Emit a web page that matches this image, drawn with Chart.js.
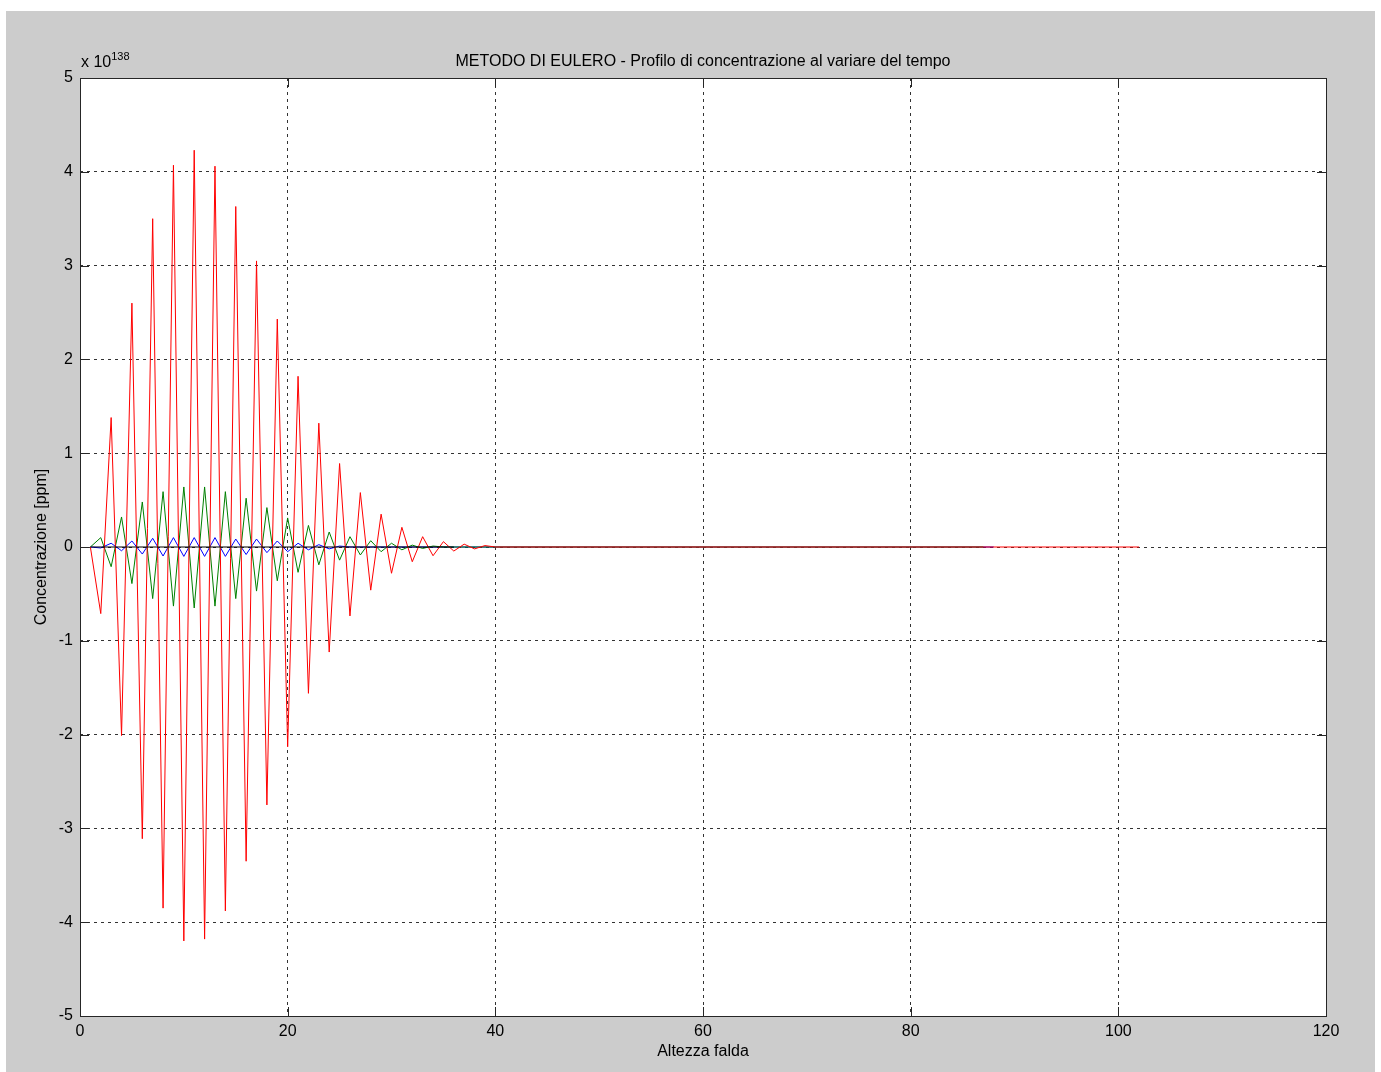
<!DOCTYPE html>
<html>
<head>
<meta charset="utf-8">
<script src="https://cdn.jsdelivr.net/npm/chart.js@4.4.0/dist/chart.umd.min.js"></script>
<style>
  html, body { margin: 0; padding: 0; background: #fff; }
  canvas { display: block; }
</style>
</head>
<body>
<canvas id="chart" width="1381" height="1072"></canvas>
<script>
// concentration values are in units of 1e138 ppm (see "x 10^138" label)
const redX = [1,2,3,4,5,6,7,8,9,10,11,12,13,14,15,16,17,18,19,20,21,22,23,24,25,26,27,28,29,30,31,32,33,34,35,36,37,38,39,40,102];
const redY = [0,-0.71,1.38,-2.01,2.60,-3.11,3.50,-3.85,4.07,-4.20,4.23,-4.18,4.06,-3.88,3.63,-3.35,3.05,-2.75,2.43,-2.13,
              1.82,-1.56,1.32,-1.12,0.89,-0.735,0.58,-0.46,0.35,-0.28,0.21,-0.157,0.11,-0.093,0.057,-0.043,0.03,-0.02,0.015,0,0];

const greenX = [1,2,3,4,5,6,7,8,9,10,11,12,13,14,15,16,17,18,19,20,21,22,23,24,25,26,27,28,29,30,31,32,33,34,35,87];
const greenY = [0,0.10,-0.21,0.32,-0.39,0.48,-0.55,0.59,-0.63,0.64,-0.65,0.64,-0.63,0.59,-0.55,0.52,-0.47,0.42,-0.36,0.31,
                -0.27,0.23,-0.19,0.16,-0.14,0.11,-0.085,0.067,-0.05,0.04,-0.03,0.02,-0.015,0.01,0,0];

const blueX = [1,2,3,4,5,6,7,8,9,10,11,12,13,14,15,16,17,18,19,20,21,22,23,24,25,26,88];
const blueY = [0,-0.01,0.04,-0.04,0.064,-0.075,0.093,-0.096,0.10,-0.10,0.10,-0.10,0.10,-0.10,0.085,-0.08,0.085,-0.06,0.064,-0.05,
               0.04,-0.03,0.025,-0.02,0.01,0,0];

const blackX = [1, 36];
const blackY = [0, 0];

const xTicks = [0, 20, 40, 60, 80, 100, 120];
const yTicks = [-5, -4, -3, -2, -1, 0, 1, 2, 3, 4, 5];

const FONT = '"Liberation Sans", Arial, Helvetica, sans-serif';

function pts(xs, ys) {
  return xs.map((x, i) => ({ x: x, y: ys[i] }));
}

// ================= Frame plugin (matlab style figure) =================
const matlabFrame = {
  id: 'matlabFrame',
  beforeDraw(chart) {
    const { ctx, chartArea: a } = chart;
    ctx.save();
    ctx.fillStyle = '#ffffff';
    ctx.fillRect(0, 0, chart.width, chart.height);
    ctx.fillStyle = '#cccccc';
    ctx.fillRect(6, 11, 1369, 1061);
    ctx.fillStyle = '#ffffff';
    ctx.fillRect(a.left, a.top, a.right - a.left, a.bottom - a.top);
    ctx.restore();
  },
  afterDraw(chart) {
    const { ctx, chartArea: a, scales } = chart;
    const tl = 9;
    ctx.save();
    ctx.strokeStyle = '#262626';
    ctx.lineWidth = 1;
    ctx.strokeRect(a.left + 0.5, a.top + 0.5, a.right - a.left, a.bottom - a.top);

    // inward tick marks on all sides
    ctx.beginPath();
    xTicks.forEach(v => {
      const px = Math.round(scales.x.getPixelForValue(v)) + 0.5;
      ctx.moveTo(px, a.bottom); ctx.lineTo(px, a.bottom - tl);
      ctx.moveTo(px, a.top); ctx.lineTo(px, a.top + tl);
    });
    yTicks.forEach(v => {
      const py = Math.round(scales.y.getPixelForValue(v)) + 0.5;
      ctx.moveTo(a.left, py); ctx.lineTo(a.left + tl, py);
      ctx.moveTo(a.right, py); ctx.lineTo(a.right - tl, py);
    });
    ctx.stroke();

    ctx.fillStyle = '#000';
    ctx.font = '16px ' + FONT;
    ctx.textAlign = 'center';
    ctx.textBaseline = 'alphabetic';
    ctx.fillText('METODO DI EULERO - Profilo di concentrazione al variare del tempo', (a.left + a.right) / 2, 66);

    ctx.textBaseline = 'middle';
    ctx.fillText('Altezza falda', (a.left + a.right) / 2, 1052);

    ctx.save();
    ctx.translate(42, (a.top + a.bottom) / 2);
    ctx.rotate(-Math.PI / 2);
    ctx.fillText('Concentrazione [ppm]', 0, 0);
    ctx.restore();

    // exponent label
    ctx.textAlign = 'left';
    ctx.textBaseline = 'alphabetic';
    ctx.fillText('x 10', a.left + 1, 67);
    const w = ctx.measureText('x 10').width;
    ctx.font = '11px ' + FONT;
    ctx.fillText('138', a.left + 1 + w, 60);
    ctx.restore();
  }
};

// ================= Chart =================
const ctx = document.getElementById('chart').getContext('2d');
new Chart(ctx, {
  type: 'line',
  data: {
    datasets: [
      { label: 'k', data: pts(blackX, blackY), borderColor: '#000000', order: 0 },
      { label: 'r', data: pts(redX, redY), borderColor: '#ff0000', order: 1 },
      { label: 'g', data: pts(greenX, greenY), borderColor: '#008000', order: 2 },
      { label: 'b', data: pts(blueX, blueY), borderColor: '#0000ff', order: 3 }
    ]
  },
  options: {
    responsive: false,
    animation: false,
    events: [],
    layout: { padding: { left: 0, top: 78, right: 55, bottom: 0 } },
    elements: {
      point: { radius: 0 },
      line: { borderWidth: 1, tension: 0, fill: false }
    },
    plugins: { legend: { display: false }, tooltip: { enabled: false }, title: { display: false } },
    scales: {
      x: {
        type: 'linear', min: 0, max: 120,
        afterFit: s => { s.height = 56; },
        afterBuildTicks: s => { s.ticks = xTicks.map(v => ({ value: v })); },
        ticks: { color: '#000', font: { family: FONT, size: 16 }, padding: 6, maxRotation: 0 },
        grid: { color: '#333333', lineWidth: 1, drawTicks: false },
        border: { display: false, dash: [3, 4] }
      },
      y: {
        type: 'linear', min: -5, max: 5,
        afterFit: s => { s.width = 80; },
        afterBuildTicks: s => { s.ticks = yTicks.map(v => ({ value: v })); },
        ticks: { color: '#000', font: { family: FONT, size: 16 }, padding: 7 },
        grid: { color: '#333333', lineWidth: 1, drawTicks: false },
        border: { display: false, dash: [3, 4] }
      }
    }
  },
  plugins: [matlabFrame]
});
</script>
</body>
</html>
